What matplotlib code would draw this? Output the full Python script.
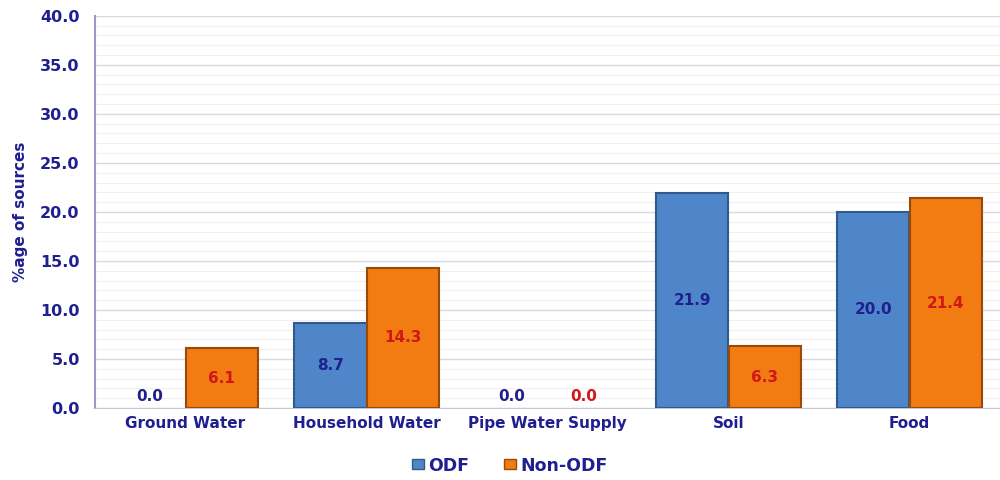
import numpy as np
import matplotlib.pyplot as plt
from matplotlib.patches import Patch
from matplotlib.ticker import MultipleLocator

categories = ['Ground Water', 'Household Water', 'Pipe Water Supply', 'Soil', 'Food']
odf = [0.0, 8.7, 0.0, 21.9, 20.0]
non_odf = [6.1, 14.3, 0.0, 6.3, 21.4]

navy = '#1F1F8F'
blue = '#4F86C9'
orange = '#F27B12'

fig = plt.figure(figsize=(10, 4.8), dpi=100)
ax = fig.add_axes([0.095, 0.15, 0.905, 0.817])

x = np.arange(len(categories))
w = 0.4
ax.bar(x - w / 2, odf, w, color=blue, edgecolor='#2F5A8A',
       linewidth=[1.5 if v > 0 else 0 for v in odf], zorder=3)
ax.bar(x + w / 2, non_odf, w, color=orange, edgecolor='#9A4A08',
       linewidth=[1.5 if v > 0 else 0 for v in non_odf], zorder=3)

for xi, v in zip(x, odf):
    ax.text(xi - w / 2, max(v / 2, 1.2), f'{v:.1f}', ha='center', va='center',
            color=navy, fontsize=11, fontweight='bold', zorder=4)
for xi, v in zip(x, non_odf):
    ax.text(xi + w / 2, max(v / 2, 1.2), f'{v:.1f}', ha='center', va='center',
            color='#D01818', fontsize=11, fontweight='bold', zorder=4)

ax.set_xlim(-0.5, len(categories) - 0.5)
ax.set_ylim(0, 40)
ax.yaxis.set_minor_locator(MultipleLocator(1))
ax.grid(axis='y', which='major', color='#D8D8E8', linewidth=1.0, zorder=0)
ax.grid(axis='y', which='minor', color='#F0F0F4', linewidth=0.8, zorder=0)
ax.set_yticks(np.arange(0, 41, 5))
ax.set_yticklabels([f'{t:.1f}' for t in np.arange(0, 41, 5)], fontsize=11.5,
                   fontweight='bold', color=navy)
ax.set_xticks(x)
ax.set_xticklabels(categories, fontsize=11, fontweight='bold', color=navy)
ax.tick_params(axis='both', which='both', length=0)
ax.tick_params(axis='y', pad=11)
ax.tick_params(axis='x', pad=6)
ax.set_ylabel('%age of sources', fontsize=11, fontweight='bold', color=navy, labelpad=9)

for s in ['top', 'right']:
    ax.spines[s].set_visible(False)
ax.spines['left'].set_color('#9A9AC8')
ax.spines['left'].set_linewidth(1.5)
ax.spines['bottom'].set_color('#C8C8D8')

handles = [Patch(facecolor=blue, edgecolor='#2F5A8A'),
           Patch(facecolor=orange, edgecolor='#9A4A08')]
leg = fig.legend(handles, ['ODF', 'Non-ODF'], loc='center', bbox_to_anchor=(0.51, 0.03),
                 ncol=2, frameon=False, handlelength=0.7, handleheight=0.5,
                 handletextpad=0.25, columnspacing=2.0,
                 prop={'size': 12.5, 'weight': 'bold'})
for t in leg.get_texts():
    t.set_color(navy)

fig.savefig('out.png', dpi=100)
